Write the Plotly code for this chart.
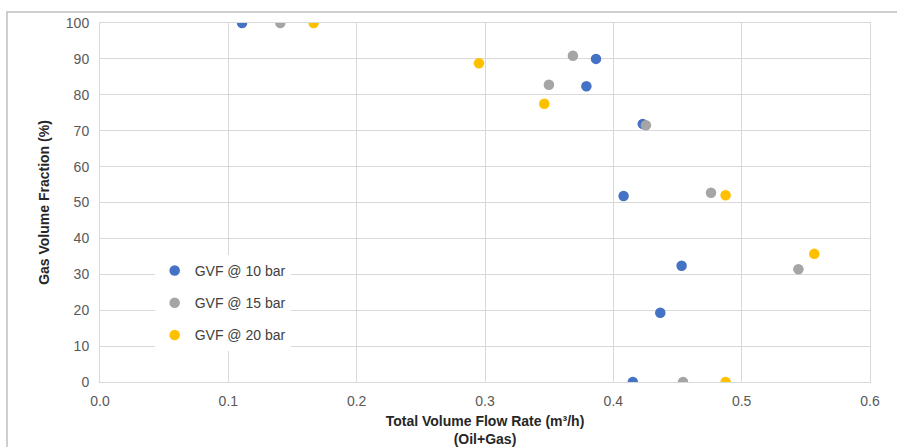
import plotly.graph_objects as go

x10 = [0.1107, 0.3865, 0.379, 0.4229, 0.408, 0.4532, 0.4366, 0.4152]
y10 = [100, 90.0, 82.4, 71.9, 51.8, 32.4, 19.3, 0]
x15 = [0.1405, 0.3685, 0.3498, 0.4254, 0.4761, 0.5442, 0.4543]
y15 = [100, 90.9, 82.8, 71.5, 52.7, 31.4, 0]
x20 = [0.1665, 0.2953, 0.3462, 0.4875, 0.5566, 0.4875]
y20 = [100, 88.8, 77.5, 52.0, 35.7, 0]

names = ["GVF @ 10 bar", "GVF @ 15 bar", "GVF @ 20 bar"]
colors = ["#4472C4", "#A5A5A5", "#FFC000"]

fig = go.Figure()
for i, (xs, ys) in enumerate([(x10, y10), (x15, y15), (x20, y20)]):
    fig.add_trace(go.Scatter(x=xs, y=ys, mode="markers", name=names[i],
                             legendgroup=str(i),
                             marker=dict(color=colors[i], size=10.5, line=dict(width=0))))

font = "Liberation Sans, Arial, sans-serif"
fig.update_layout(
    width=897, height=447,
    margin=dict(l=100, r=27, t=23, b=65),
    paper_bgcolor="white", plot_bgcolor="white",
    font=dict(family=font, size=14, color="#595959"),
    showlegend=True,
    legend=dict(x=0.071, y=0.354, xanchor="left", yanchor="top",
                bgcolor="white", font=dict(size=14, color="#404040"),
                tracegroupgap=11, itemwidth=30),
    xaxis=dict(range=[0, 0.6], dtick=0.1, tickformat=".1f",
               showgrid=True, gridcolor="#d9d9d9", gridwidth=1,
               zeroline=False, showline=True, linecolor="#d9d9d9", mirror=True,
               ticks="", ticklabelstandoff=6, automargin=False,
               title=dict(text="<b>Total Volume Flow Rate (m³/h)<br>(Oil+Gas)</b>",
                          font=dict(size=14, color="#262626"), standoff=16)),
    yaxis=dict(range=[0, 100], dtick=10,
               showgrid=True, gridcolor="#d9d9d9", gridwidth=1,
               zeroline=False, showline=True, linecolor="#d9d9d9", mirror=True,
               ticks="", ticklabelstandoff=7, automargin=False,
               title=dict(text="<b>Gas Volume Fraction (%)</b>",
                          font=dict(size=14, color="#262626"), standoff=12)),
    shapes=[dict(type="rect", xref="paper", yref="paper",
                 x0=-0.1208, x1=1.04, y0=-0.3, y1=1.0306,
                 line=dict(color="#bfbfbf", width=1.5), layer="below")],
)
fig.write_html("out.html")
